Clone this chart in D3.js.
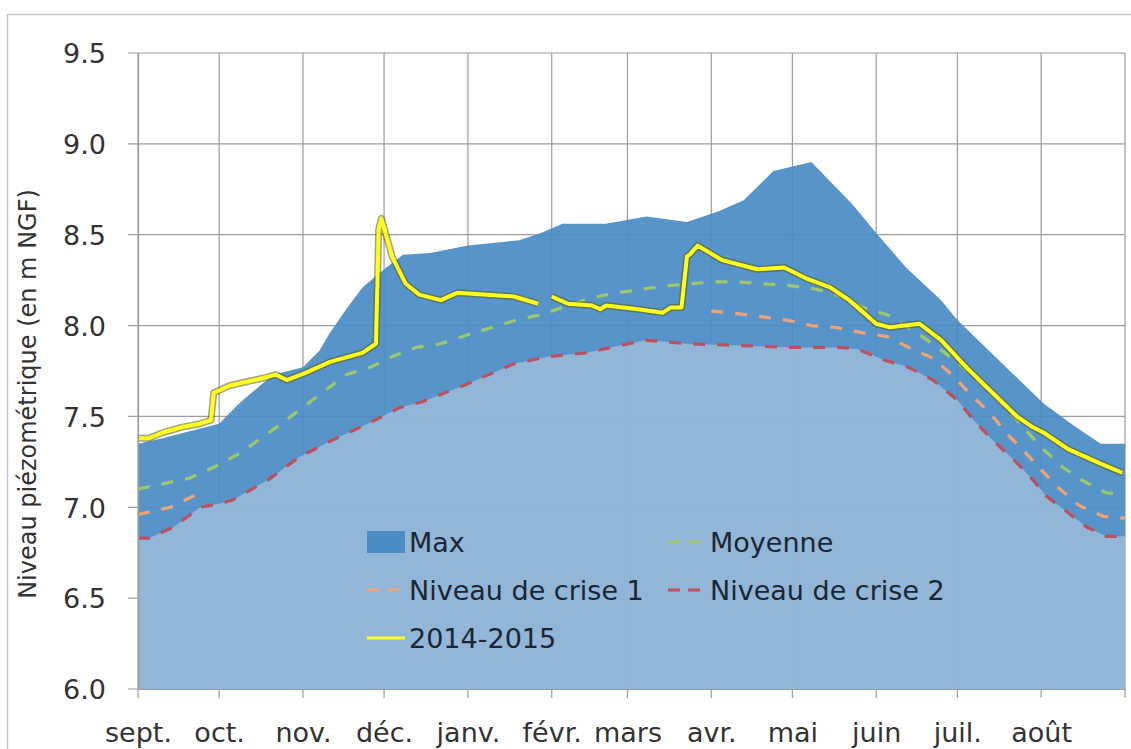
<!DOCTYPE html>
<html>
<head>
<meta charset="utf-8">
<script src="https://cdn.jsdelivr.net/npm/d3@7/dist/d3.min.js"></script>
<style>
  body { margin: 0; background: #fff; }
  text { font-family: 'DejaVu Sans', sans-serif; }
</style>
</head>
<body>
<div id="viz"></div>
<script>
/* global d3 */
const svgWidth = 1131;
const svgHeight = 749;
const margin = { top: 53, right: 6, bottom: 60, left: 138 };

const darkBlue = '#4a8cc6';
const lightBlue = '#96b9d8';
const gridColor = '#9c9c9c';
const moyColor = '#9cc76a';
const crise1Color = '#eea474';
const crise2Color = '#bd5060';
const yellowColor = '#ffff1a';

const monthLabels = ['sept.', 'oct.', 'nov.', 'déc.', 'janv.', 'févr.', 'mars', 'avr.', 'mai', 'juin', 'juil.', 'août'];
const yTicks = [6.0, 6.5, 7.0, 7.5, 8.0, 8.5, 9.0, 9.5];

// upper envelope of the dark area
const maxSeries = [
  ['2014-09-01', 7.35], ['2014-09-10', 7.38], ['2014-09-23', 7.43], ['2014-10-01', 7.46],
  ['2014-10-09', 7.58], ['2014-10-21', 7.73], ['2014-11-01', 7.77], ['2014-11-07', 7.86],
  ['2014-11-11', 7.96], ['2014-11-17', 8.09], ['2014-11-23', 8.21], ['2014-12-01', 8.31],
  ['2014-12-08', 8.39], ['2014-12-18', 8.40], ['2015-01-01', 8.44], ['2015-01-20', 8.47],
  ['2015-01-28', 8.51], ['2015-02-05', 8.56], ['2015-02-21', 8.56], ['2015-03-08', 8.60],
  ['2015-03-23', 8.57], ['2015-04-04', 8.63], ['2015-04-13', 8.69], ['2015-04-24', 8.85],
  ['2015-05-08', 8.90], ['2015-05-23', 8.67], ['2015-06-01', 8.51], ['2015-06-12', 8.32],
  ['2015-06-25', 8.14], ['2015-07-01', 8.03], ['2015-07-17', 7.80], ['2015-08-02', 7.57],
  ['2015-08-13', 7.45], ['2015-08-23', 7.35], ['2015-09-01', 7.35],
];

const moyenne = [
  ['2014-09-01', 7.10], ['2014-09-20', 7.16], ['2014-09-29', 7.22], ['2014-10-09', 7.30],
  ['2014-10-24', 7.46], ['2014-11-01', 7.55], ['2014-11-08', 7.63], ['2014-11-17', 7.73],
  ['2014-11-26', 7.77], ['2014-12-04', 7.83], ['2014-12-13', 7.88], ['2014-12-22', 7.90],
  ['2015-01-01', 7.95], ['2015-01-10', 7.99], ['2015-01-19', 8.03], ['2015-01-28', 8.06],
  ['2015-02-05', 8.10], ['2015-02-15', 8.15], ['2015-02-25', 8.18], ['2015-03-06', 8.20],
  ['2015-03-16', 8.22], ['2015-04-01', 8.24], ['2015-04-11', 8.24], ['2015-04-20', 8.23],
  ['2015-04-30', 8.22], ['2015-05-10', 8.20], ['2015-05-19', 8.16], ['2015-05-27', 8.10],
  ['2015-06-05', 8.06], ['2015-06-17', 7.95], ['2015-07-01', 7.80], ['2015-07-17', 7.58],
  ['2015-08-01', 7.33], ['2015-08-09', 7.22], ['2015-08-16', 7.15], ['2015-08-25', 7.08],
  ['2015-09-01', 7.07],
];

// null = no value (gap in the series)
const crise1 = [
  ['2014-09-01', 6.96], ['2014-09-13', 7.00], ['2014-09-24', 7.08], ['2014-09-25', null],
  ['2015-03-31', null], ['2015-04-01', 8.08], ['2015-04-08', 8.07], ['2015-04-19', 8.05],
  ['2015-04-29', 8.03], ['2015-05-08', 8.00], ['2015-05-17', 7.99], ['2015-05-27', 7.96],
  ['2015-06-05', 7.94], ['2015-06-13', 7.88], ['2015-06-22', 7.82], ['2015-06-29', 7.73],
  ['2015-07-06', 7.62], ['2015-07-13', 7.52], ['2015-07-19', 7.41], ['2015-07-25', 7.32],
  ['2015-08-02', 7.19], ['2015-08-08', 7.10], ['2015-08-15', 7.01], ['2015-08-24', 6.95],
  ['2015-09-01', 6.94],
];

const crise2 = [
  ['2014-09-01', 6.83], ['2014-09-05', 6.83], ['2014-09-14', 6.89], ['2014-09-24', 7.00],
  ['2014-10-01', 7.02], ['2014-10-06', 7.04], ['2014-10-19', 7.15], ['2014-10-31', 7.28],
  ['2014-11-12', 7.37], ['2014-11-25', 7.46], ['2014-12-07', 7.55], ['2014-12-15', 7.58],
  ['2015-01-01', 7.68], ['2015-01-18', 7.79], ['2015-01-31', 7.83], ['2015-02-14', 7.85],
  ['2015-02-26', 7.89], ['2015-03-08', 7.92], ['2015-03-23', 7.90], ['2015-04-12', 7.89],
  ['2015-04-30', 7.88], ['2015-05-19', 7.88], ['2015-05-25', 7.87], ['2015-06-04', 7.81],
  ['2015-06-13', 7.77], ['2015-06-22', 7.70], ['2015-07-01', 7.59], ['2015-07-07', 7.48],
  ['2015-07-14', 7.37], ['2015-07-22', 7.26], ['2015-07-29', 7.15], ['2015-08-03', 7.06],
  ['2015-08-11', 6.97], ['2015-08-18', 6.89], ['2015-08-25', 6.84], ['2015-09-01', 6.84],
];

const year2014 = [
  ['2014-09-01', 7.38], ['2014-09-05', 7.38], ['2014-09-10', 7.41], ['2014-09-17', 7.44],
  ['2014-09-24', 7.46], ['2014-09-28', 7.48], ['2014-09-29', 7.63], ['2014-10-05', 7.67],
  ['2014-10-17', 7.71], ['2014-10-22', 7.73], ['2014-10-26', 7.70], ['2014-11-02', 7.74],
  ['2014-11-11', 7.80], ['2014-11-23', 7.85], ['2014-11-28', 7.90], ['2014-11-29', 8.53],
  ['2014-11-30', 8.59], ['2014-12-04', 8.38], ['2014-12-09', 8.23], ['2014-12-14', 8.17],
  ['2014-12-22', 8.14], ['2014-12-28', 8.18], ['2015-01-08', 8.17], ['2015-01-18', 8.16],
  ['2015-01-27', 8.12], ['2015-01-28', null], ['2015-01-31', null], ['2015-02-01', 8.16],
  ['2015-02-07', 8.12], ['2015-02-16', 8.11], ['2015-02-19', 8.09], ['2015-02-21', 8.11],
  ['2015-03-05', 8.09], ['2015-03-14', 8.07], ['2015-03-17', 8.10], ['2015-03-21', 8.10],
  ['2015-03-23', 8.38], ['2015-03-24', 8.39], ['2015-03-27', 8.44], ['2015-04-05', 8.36],
  ['2015-04-18', 8.31], ['2015-04-28', 8.32], ['2015-05-06', 8.26], ['2015-05-15', 8.21],
  ['2015-05-22', 8.14], ['2015-06-01', 8.01], ['2015-06-06', 7.99], ['2015-06-17', 8.01],
  ['2015-06-25', 7.92], ['2015-07-05', 7.76], ['2015-07-14', 7.63], ['2015-07-23', 7.50],
  ['2015-07-29', 7.44], ['2015-08-02', 7.41], ['2015-08-11', 7.32], ['2015-08-23', 7.24],
  ['2015-08-31', 7.19],
];

const parseTime = d3.timeParse('%Y-%m-%d');
const startDate = parseTime('2014-09-01');
const endDate = parseTime('2015-09-01');

const x = d3.scaleTime()
  .domain([startDate, endDate])
  .range([margin.left, svgWidth - margin.right]);

const y = d3.scaleLinear()
  .domain([6, 9.5])
  .range([svgHeight - margin.bottom, margin.top]);

const monthTicks = d3.timeMonth.range(startDate, d3.timeDay.offset(endDate, 1));

const svg = d3.select('#viz').append('svg')
  .attr('width', svgWidth)
  .attr('height', svgHeight);

// chart frame
svg.append('rect')
  .attr('x', 7.5)
  .attr('y', 14.5)
  .attr('width', svgWidth + 20)
  .attr('height', svgHeight + 20)
  .attr('fill', 'none')
  .attr('stroke', '#c8c8c8')
  .attr('stroke-width', 1.5);

// grid
const grid = svg.append('g').attr('class', 'grid');
grid.selectAll('line.h')
  .data(yTicks)
  .enter()
  .append('line')
  .attr('x1', margin.left - 10)
  .attr('x2', x(endDate))
  .attr('y1', d => y(d))
  .attr('y2', d => y(d))
  .attr('stroke', gridColor)
  .attr('stroke-width', 1.2);

grid.selectAll('line.v')
  .data(monthTicks)
  .enter()
  .append('line')
  .attr('x1', d => x(d))
  .attr('x2', d => x(d))
  .attr('y1', y(9.5))
  .attr('y2', y(6) + 9)
  .attr('stroke', gridColor)
  .attr('stroke-width', 1.2);

const toPoints = arr => arr.map(d => ({ date: parseTime(d[0]), value: d[1] }));

const areaMax = d3.area()
  .x(d => x(d.date))
  .y0(y(6))
  .y1(d => y(d.value));

svg.append('path')
  .datum(toPoints(maxSeries))
  .attr('fill', darkBlue)
  .attr('fill-opacity', 0.93)
  .attr('d', areaMax);

svg.append('path')
  .datum(toPoints(crise2))
  .attr('fill', lightBlue)
  .attr('fill-opacity', 0.93)
  .attr('d', areaMax);

const line = d3.line()
  .defined(d => d.value !== null)
  .x(d => x(d.date))
  .y(d => y(d.value));

const dashedSeries = [
  { data: crise2, color: crise2Color },
  { data: crise1, color: crise1Color },
  { data: moyenne, color: moyColor },
];

dashedSeries.forEach((s) => {
  svg.append('path')
    .datum(toPoints(s.data))
    .attr('fill', 'none')
    .attr('stroke', s.color)
    .attr('stroke-width', 3.2)
    .attr('stroke-dasharray', '12,12')
    .attr('d', line);
});

// 2014-2015 line with a dark halo
svg.append('path')
  .datum(toPoints(year2014))
  .attr('fill', 'none')
  .attr('stroke', '#5b5a1a')
  .attr('stroke-opacity', 0.55)
  .attr('stroke-width', 7)
  .attr('stroke-linejoin', 'round')
  .attr('d', line);

svg.append('path')
  .datum(toPoints(year2014))
  .attr('fill', 'none')
  .attr('stroke', yellowColor)
  .attr('stroke-width', 4)
  .attr('stroke-linejoin', 'round')
  .attr('d', line);

// axes
const xAxis = d3.axisBottom(x)
  .tickValues(monthTicks)
  .tickSize(0)
  .tickPadding(53)
  .tickFormat((d, i) => monthLabels[i] || '');

const xg = svg.append('g')
  .attr('transform', `translate(0, ${y(6)})`)
  .call(xAxis);
xg.select('.domain').attr('stroke', gridColor).attr('stroke-width', 1.2);
xg.selectAll('text')
  .style('font-size', '27px')
  .style('fill', '#333')
  .attr('dy', '0');

const yAxis = d3.axisLeft(y)
  .tickValues(yTicks)
  .tickSize(0)
  .tickPadding(32)
  .tickFormat(d3.format('.1f'));

const yg = svg.append('g')
  .attr('transform', `translate(${margin.left}, 0)`)
  .call(yAxis);
yg.select('.domain').attr('stroke', gridColor).attr('stroke-width', 1.2);
yg.selectAll('text')
  .style('font-size', '27px')
  .style('fill', '#333')
  .attr('dy', '0.36em');

svg.append('text')
  .attr('transform', 'translate(36, 394) rotate(-90)')
  .attr('text-anchor', 'middle')
  .style('font-size', '24px')
  .style('fill', '#333')
  .text('Niveau piézométrique (en m NGF)');

// legend
const legendItems = [
  { label: 'Max', type: 'rect', color: darkBlue, col: 0, row: 0 },
  { label: 'Moyenne', type: 'dash', color: moyColor, col: 1, row: 0 },
  { label: 'Niveau de crise 1', type: 'dash', color: crise1Color, col: 0, row: 1 },
  { label: 'Niveau de crise 2', type: 'dash', color: crise2Color, col: 1, row: 1 },
  { label: '2014-2015', type: 'line', color: yellowColor, col: 0, row: 2 },
];

const legend = svg.append('g').attr('class', 'legend');
const items = legend.selectAll('g.item')
  .data(legendItems)
  .enter()
  .append('g')
  .attr('class', 'item')
  .attr('transform', d => `translate(${367 + d.col * 301}, ${542 + d.row * 48})`);

items.filter(d => d.type === 'rect')
  .append('rect')
  .attr('x', 0)
  .attr('y', -11)
  .attr('width', 38)
  .attr('height', 22)
  .attr('fill', d => d.color);

items.filter(d => d.type !== 'rect')
  .append('line')
  .attr('x1', 0)
  .attr('x2', 38)
  .attr('y1', 0)
  .attr('y2', 0)
  .attr('stroke', d => d.color)
  .attr('stroke-width', 3.2)
  .attr('stroke-dasharray', d => (d.type === 'dash' ? '12,8' : null));

items.append('text')
  .attr('x', 42)
  .attr('y', 0)
  .attr('dy', '0.36em')
  .style('font-size', '27px')
  .style('fill', '#1c2633')
  .text(d => d.label);
</script>
</body>
</html>
